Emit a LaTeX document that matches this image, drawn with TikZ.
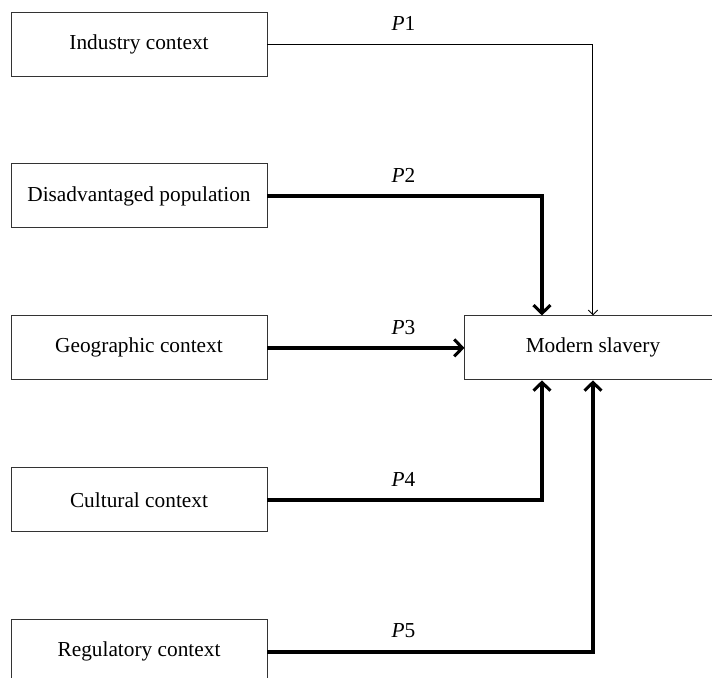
\documentclass[tikz,border=0pt]{standalone}
\usepackage{fontspec}
\setmainfont{Liberation Serif}
\usetikzlibrary{arrows.meta,positioning}
\tikzset{
  ctxbox/.style={draw=black!80,line width=0.8pt,minimum width=7.68cm,minimum height=1.92cm,font=\fontsize{18.2}{22}\selectfont,inner sep=0pt},
  lbl/.style={font=\fontsize{18.2}{22}\selectfont},
  thinarr/.style={line width=0.8pt,-{Straight Barb[length=4pt,width=8pt]}},
  thickarr/.style={line width=3.1pt,-{Straight Barb[length=7pt,width=14.5pt,line width=2.6pt]}},
}
\begin{document}
\begin{tikzpicture}[x=0.03cm,y=-0.03cm,line join=miter]
			\useasboundingbox (0,0) rectangle (712,677);
			\clip (0,0) rectangle (712,677);
			% left column
			\node[ctxbox] (ind) at (139,44) {Industry context};
			\node[ctxbox,below=2.61cm of ind] (dis) {Disadvantaged population};
			\node[ctxbox,below=2.61cm of dis] (geo) {Geographic context};
			\node[ctxbox,below=2.61cm of geo] (cul) {Cultural context};
			\node[ctxbox,below=2.61cm of cul] (reg) {Regulatory context};
			% outcome
			\node[ctxbox,right=5.91cm of geo] (ms) {Modern slavery};
			\coordinate (msnl) at ([xshift=-1.53cm]ms.north);
			\coordinate (msl) at ([xshift=-1.53cm]ms.south);
			% paths
			\draw[thinarr] (ind.east) -| (ms.north);
			\draw[thickarr] (dis.east) -| (msnl);
			\draw[thickarr] (geo.east) -- (ms.west);
			\draw[thickarr] (cul.east) -| (msl);
			\draw[thickarr] (reg.east) -| (ms.south);
			% labels
			\foreach \n/\p in {ind/1,dis/2,geo/3,cul/4,reg/5}
				\node[lbl] (lp\p) at ([xshift=4.08cm,yshift=0.62cm]\n.east) {\textit{P}\p};
		\end{tikzpicture}
\end{document}
